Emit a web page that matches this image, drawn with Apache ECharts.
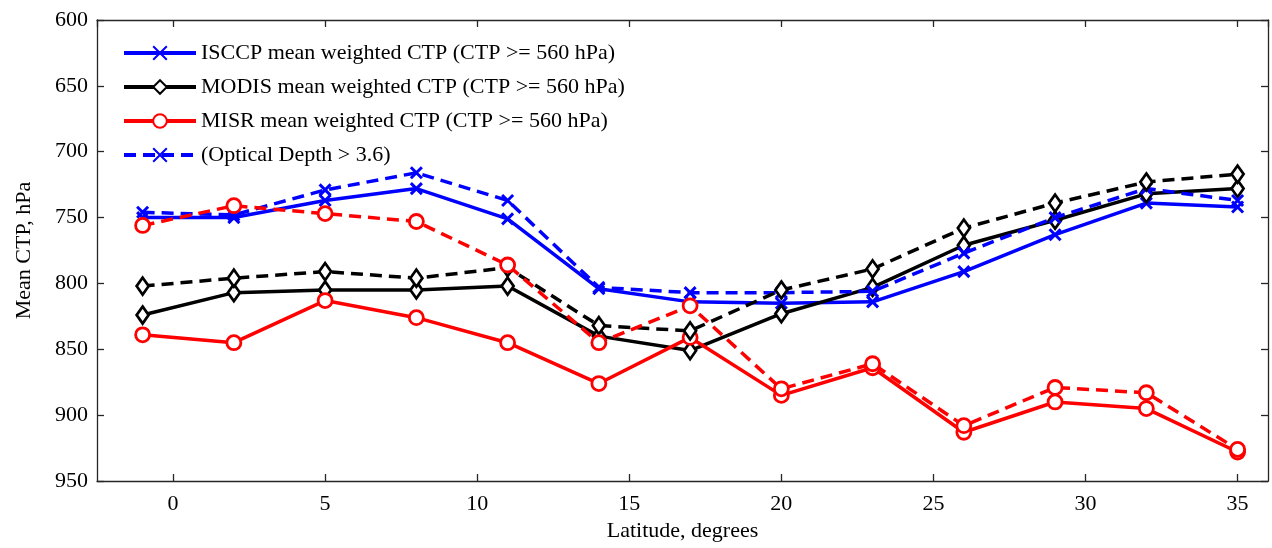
<!DOCTYPE html>
<html>
<head>
<meta charset="utf-8">
<script src="https://cdn.jsdelivr.net/npm/echarts@6/dist/echarts.min.js"></script>
<style>
  html, body { margin: 0; padding: 0; background: #fff; }
  #chart { width: 1272px; height: 548px; }
</style>
</head>
<body>
<div id="chart"></div>
<script>
// Latitude bins (degrees)
const latitudes = [-1, 2, 5, 8, 11, 14, 17, 20, 23, 26, 29, 32, 35];

// Mean weighted cloud-top pressure, hPa (CTP >= 560 hPa)
const isccpAll  = [750, 750, 737, 728, 751, 804, 814, 815, 814, 791, 763, 739, 742];
const modisAll  = [824, 807, 805, 805, 802, 840, 851, 823, 803, 771, 752, 732, 728];
const misrAll   = [839, 845, 813, 826, 845, 876, 841, 885, 864, 913, 890, 895, 928];

// Same quantity restricted to optical depth > 3.6
const isccpThick = [746, 748, 729, 716, 737, 803, 807, 807, 806, 777, 750, 728, 737];
const modisThick = [802, 796, 791, 796, 788, 832, 836, 805, 789, 758, 739, 723, 717];
const misrThick  = [756, 741, 747, 753, 786, 845, 817, 880, 861, 908, 879, 883, 926];

const yTicks = [600, 650, 700, 750, 800, 850, 900, 950];
const xTicks = [0, 5, 10, 15, 20, 25, 30, 35];

const FONT = 'Liberation Serif';
const AXIS_COLOR = '#262626';
const BLUE = '#0000ff', BLACK = '#000000', RED = '#ff0000';
const CROSS = 'path://M0,0L10,10M10,0L0,10';

function pairs(ys) { return latitudes.map((x, i) => [x, ys[i]]); }

function makeSeries(name, ys, color, marker, dashed) {
  const isCross = marker === CROSS;
  let size = 14;
  if (isCross) size = 11;
  if (marker === 'diamond') size = [12, 17];
  return {
    name: name,
    type: 'line',
    data: pairs(ys),
    symbol: marker,
    symbolSize: size,
    showAllSymbol: true,
    lineStyle: { color: color, width: 3.5, type: dashed ? [12, 7] : 'solid' },
    itemStyle: {
      color: isCross ? color : '#ffffff',
      borderColor: color,
      borderWidth: isCross ? 3 : 2.8
    },
    emphasis: { disabled: true },
    z: dashed ? 3 : 2
  };
}

const chart = echarts.init(document.getElementById('chart'), null, { renderer: 'canvas' });

const axisLine = { show: true, onZero: false, lineStyle: { color: AXIS_COLOR, width: 1.3 } };
const axisTick = { show: true, inside: true, length: 7, lineStyle: { color: AXIS_COLOR, width: 1.3 } };

chart.setOption({
  animation: false,
  backgroundColor: '#ffffff',
  grid: { left: 97, right: 4, top: 20, bottom: 67, containLabel: false },
  legend: {
    data: [
      'ISCCP mean weighted CTP (CTP >= 560 hPa)',
      'MODIS mean weighted CTP (CTP >= 560 hPa)',
      'MISR mean weighted CTP (CTP >= 560 hPa)',
      '(Optical Depth > 3.6)'
    ],
    orient: 'vertical',
    left: 117,
    top: 37,
    itemWidth: 72,
    itemHeight: 17,
    itemGap: 12,
    lineStyle: { width: 4 },
    textStyle: { fontFamily: FONT, fontSize: 22, color: '#000', lineHeight: 21 },
    selectedMode: false,
    backgroundColor: 'transparent'
  },
  xAxis: [{
    type: 'value',
    min: -2.5,
    max: 36,
    splitNumber: 8,
    name: 'Latitude, degrees',
    nameLocation: 'middle',
    nameGap: 35,
    nameTextStyle: { fontFamily: FONT, fontSize: 22, color: '#000' },
    axisLine: axisLine,
    axisTick: axisTick,
    splitLine: { show: false },
    axisLabel: {
      fontFamily: FONT, fontSize: 22, color: '#000', margin: 12,
      showMinLabel: false, showMaxLabel: false,
      formatter: v => (xTicks.indexOf(v) >= 0 ? String(v) : '')
    }
  }, {
    type: 'value',
    position: 'top',
    min: -2.5,
    max: 36,
    splitNumber: 8,
    axisLine: axisLine,
    axisTick: axisTick,
    axisLabel: { show: false },
    splitLine: { show: false }
  }],
  yAxis: [{
    type: 'value',
    inverse: true,
    min: yTicks[0],
    max: yTicks[yTicks.length - 1],
    interval: 50,
    name: 'Mean CTP, hPa',
    nameLocation: 'middle',
    nameGap: 62,
    nameTextStyle: { fontFamily: FONT, fontSize: 22, color: '#000' },
    axisLine: axisLine,
    axisTick: axisTick,
    splitLine: { show: false },
    axisLabel: { fontFamily: FONT, fontSize: 22, color: '#000', margin: 9 }
  }, {
    type: 'value',
    position: 'right',
    inverse: true,
    min: yTicks[0],
    max: yTicks[yTicks.length - 1],
    interval: 50,
    axisLine: axisLine,
    axisTick: axisTick,
    axisLabel: { show: false },
    splitLine: { show: false }
  }],
  series: [
    makeSeries('ISCCP mean weighted CTP (CTP >= 560 hPa)', isccpAll, BLUE, CROSS, false),
    makeSeries('MODIS mean weighted CTP (CTP >= 560 hPa)', modisAll, BLACK, 'diamond', false),
    makeSeries('MISR mean weighted CTP (CTP >= 560 hPa)', misrAll, RED, 'circle', false),
    makeSeries('(Optical Depth > 3.6)', isccpThick, BLUE, CROSS, true),
    makeSeries('MODIS (Optical Depth > 3.6)', modisThick, BLACK, 'diamond', true),
    makeSeries('MISR (Optical Depth > 3.6)', misrThick, RED, 'circle', true)
  ]
});
</script>
</body>
</html>
